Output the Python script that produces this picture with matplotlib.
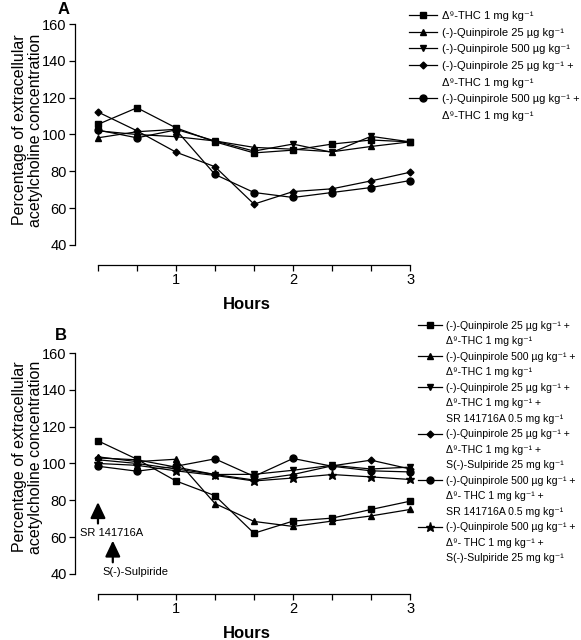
import matplotlib
matplotlib.use('Agg')
import matplotlib.pyplot as plt
from matplotlib.lines import Line2D
import numpy as np

plt.rcParams['font.family'] = ['Liberation Sans', 'DejaVu Sans']

# sampling times (min) -> hours
minutes = [20, 40, 60, 80, 100, 120, 140, 160, 180]
hours = np.array(minutes) / 60.0

# panel A
a_thc = [105.5, 114.5, 103.6, 96.0, 90.0, 91.5, 94.8, 97.0, 96.0]
a_q25 = [98.2, 101.5, 102.8, 96.5, 93.0, 92.0, 90.6, 93.5, 96.0]
a_q500 = [102.0, 100.0, 98.8, 96.5, 91.0, 94.8, 90.3, 99.0, 96.0]
a_q25_thc = [112.2, 102.0, 90.4, 82.5, 62.2, 69.0, 70.5, 74.8, 79.5]
a_q500_thc = [102.4, 98.2, 102.5, 78.3, 68.5, 65.8, 68.5, 71.2, 75.0]

# panel B
b_q25_thc = [112.3, 102.3, 90.5, 82.5, 62.1, 68.7, 70.3, 75.0, 79.5]
b_q500_thc = [103.6, 101.0, 102.3, 78.2, 68.5, 65.8, 68.7, 71.5, 75.0]
b_q25_sr = [102.0, 100.0, 97.0, 94.0, 94.1, 96.3, 99.0, 97.0, 98.0]
b_q25_sul = [103.0, 102.0, 98.0, 94.0, 91.0, 94.0, 98.7, 101.8, 97.0]
b_q500_sr = [98.5, 95.8, 98.5, 102.5, 93.0, 102.7, 98.5, 96.0, 95.4]
b_q500_sul = [100.0, 99.0, 96.0, 93.5, 90.5, 92.1, 94.0, 92.7, 91.3]

KG = 'kg\u207b\u00b9'
THC = '\u0394\u2079-THC 1 mg ' + KG
THC2 = '\u0394\u2079- THC 1 mg ' + KG
Q25 = '(-)-Quinpirole 25 \u00b5g ' + KG
Q500 = '(-)-Quinpirole 500 \u00b5g ' + KG

series_a = [
    (a_thc, 's', 5, [THC]),
    (a_q25, '^', 5, [Q25]),
    (a_q500, 'v', 5, [Q500]),
    (a_q25_thc, 'D', 3.5, [Q25 + ' +', THC]),
    (a_q500_thc, 'o', 5, [Q500 + ' +', THC]),
]
series_b = [
    (b_q25_thc, 's', 5, [Q25 + ' +', THC]),
    (b_q500_thc, '^', 5, [Q500 + ' +', THC]),
    (b_q25_sr, 'v', 5, [Q25 + ' +', THC + ' +', 'SR 141716A 0.5 mg ' + KG]),
    (b_q25_sul, 'D', 3.5, [Q25 + ' +', THC + ' +', 'S(-)-Sulpiride 25 mg ' + KG]),
    (b_q500_sr, 'o', 5, [Q500 + ' +', THC2 + ' +', 'SR 141716A 0.5 mg ' + KG]),
    (b_q500_sul, '*', 6.5, [Q500 + ' +', THC2 + ' +', 'S(-)-Sulpiride 25 mg ' + KG]),
]

W, H = 581, 640
fig = plt.figure(figsize=(W / 100, H / 100), dpi=100)


def px_axes(left, top, right, bottom):
    return fig.add_axes([left / W, 1 - bottom / H, (right - left) / W, (bottom - top) / H])


def panel(ax, series, yscale):
    handles, labels = [], []
    for vals, mk, ms, lab in series:
        ax.plot(hours, vals, color='black', lw=0.9, marker=mk, ms=ms,
                markerfacecolor='black', markeredgecolor='black', clip_on=False)
        h = Line2D([], [], color='black', lw=0.9, marker=mk, ms=ms)
        for i, line in enumerate(lab):
            handles.append(h if i == 0 else Line2D([], [], color='none'))
            labels.append(line)
    ax.set_xlim(0.137, 3.068)
    ax.set_ylim(40 - 20 / yscale, 160 + 4 / yscale)
    for s in ['top', 'right']:
        ax.spines[s].set_visible(False)
    ax.spines['left'].set_bounds(40, 160)
    ax.spines['bottom'].set_bounds(hours[0], hours[-1])
    ax.spines['left'].set_linewidth(0.9)
    ax.spines['bottom'].set_linewidth(0.9)
    ax.set_yticks([40, 60, 80, 100, 120, 140, 160])
    ax.set_xticks(hours)
    ax.set_xticklabels(['' if m % 60 else str(m // 60) for m in minutes])
    ax.tick_params(direction='out', length=4, width=0.9, labelsize=10.5, pad=2)
    ax.set_ylabel('Percentage of extracellular\nacetylcholine concentration',
                  fontsize=11.5, linespacing=1.1)
    ax.set_xlabel('Hours', fontsize=12, fontweight='bold', labelpad=7)
    return handles, labels


axA = px_axes(75, 20, 418, 265)
hA, lA = panel(axA, series_a, 1.84)
axA.yaxis.set_label_coords(-0.093, (265 - 130) / 245)
fig.text(64 / W, 1 - 1.5 / H, 'A', fontsize=12, fontweight='bold', ha='center', va='top')
fig.legend(hA, lA, loc='upper left', bbox_to_anchor=(409 / W, 1 - 11 / H),
           frameon=False, fontsize=8, handlelength=2.5, handletextpad=0.5,
           labelspacing=0.6, borderpad=0, borderaxespad=0)

axB = px_axes(75, 349, 418, 594)
hB, lB = panel(axB, series_b, 1.833)
axB.yaxis.set_label_coords(-0.093, (594 - 457) / 245)
fig.text(61 / W, 1 - 328 / H, 'B', fontsize=12, fontweight='bold', ha='center', va='top')
fig.legend(hB, lB, loc='upper left', bbox_to_anchor=(418 / W, 1 - 321 / H),
           frameon=False, fontsize=7.6, handlelength=2.3, handletextpad=0.4,
           labelspacing=0.52, borderpad=0, borderaxespad=0)

# drug injection arrows
arrow = dict(arrowstyle='-|>,head_length=0.8,head_width=0.38', color='black',
             lw=1.6, mutation_scale=12, shrinkA=0, shrinkB=0)
axB.annotate('', xy=(hours[0], 79), xytext=(hours[0], 67.4), arrowprops=arrow)
axB.text(0.18, 62.1, 'SR 141716A', fontsize=8, ha='left', va='center')
axB.annotate('', xy=(0.46, 58.1), xytext=(0.46, 46.3), arrowprops=arrow,
             annotation_clip=False)
axB.text(0.37, 40.9, 'S(-)-Sulpiride', fontsize=8, ha='left', va='center')

fig.savefig('out.png', dpi=100)
